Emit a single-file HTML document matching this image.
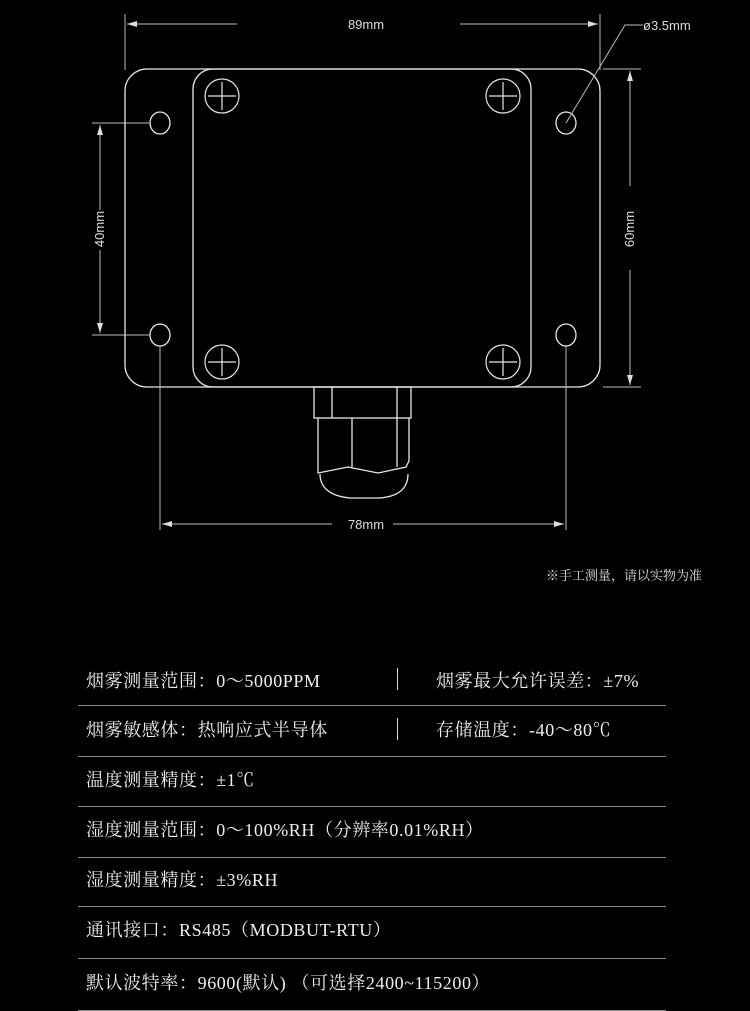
<!DOCTYPE html>
<html><head><meta charset="utf-8"><style>
html,body{margin:0;padding:0;background:#000;}
body{width:750px;height:1011px;position:relative;overflow:hidden;color:#fff;}
.t{position:absolute;font-family:"Liberation Serif","Noto Serif CJK SC",serif;font-size:18px;letter-spacing:0.6px;color:#eee;white-space:nowrap;line-height:20px;}
.hr{position:absolute;left:78px;width:588px;height:1px;background:#888;}
.vr{position:absolute;left:397px;width:1px;height:22px;background:#ddd;}
</style></head><body>
<svg width="750" height="620" style="position:absolute;left:0;top:0" xmlns="http://www.w3.org/2000/svg">
<defs><marker id="a" markerWidth="10" markerHeight="6" refX="10" refY="3" orient="auto-start-reverse" markerUnits="userSpaceOnUse"><path d="M0,0 L10,3 L0,6z" fill="#ddd"/></marker></defs>
<g stroke="#e8e8e8" fill="none" stroke-width="1.3">
<rect x="125" y="69" width="475" height="318" rx="22"/>
<rect x="193" y="69" width="338" height="318" rx="20"/>
<g stroke-width="1.2">
<circle cx="222" cy="96" r="17"/><path d="M208 96h28M222 82v28"/>
<circle cx="503" cy="96" r="17"/><path d="M489 96h28M503 82v28"/>
<circle cx="222" cy="362" r="17"/><path d="M208 362h28M222 348v28"/>
<circle cx="503" cy="362" r="17"/><path d="M489 362h28M503 348v28"/>
</g>
<ellipse cx="160" cy="123" rx="10" ry="11"/><ellipse cx="566" cy="123" rx="10" ry="11"/>
<ellipse cx="160" cy="335" rx="10" ry="11"/><ellipse cx="566" cy="335" rx="10" ry="11"/>
<rect x="314" y="387" width="97" height="31"/><path d="M332 387v31M397 387v31"/>
<path d="M318 418v55l30-6 30 6 28 -6 3-6v-43M352 418v49M397 418v49"/>
<path d="M320 474c0 12 8 22 30 24h30c22-2 28-12 28-24"/>
</g>
<g stroke="#bbb" stroke-width="1" fill="none">
<path d="M125 14v56M600 14v56"/>
<path d="M127 24h110" marker-start="url(#a)"/><path d="M460 24h138" marker-end="url(#a)"/>
<path d="M566 123L625 25h18"/>
<path d="M92 123h58M92 335h58"/>
<path d="M100 125v85" marker-start="url(#a)"/><path d="M100 250v83" marker-end="url(#a)"/>
<path d="M603 69h38M603 387h38"/>
<path d="M630 71v115" marker-start="url(#a)"/><path d="M630 270v115" marker-end="url(#a)"/>
<path d="M160 345v185M566 345v185"/>
<path d="M162 524h170" marker-start="url(#a)"/><path d="M393 524h171" marker-end="url(#a)"/>
</g>
<g fill="#ddd" font-family="Liberation Sans,sans-serif" font-size="13">
<text x="366" y="29" text-anchor="middle">89mm</text>
<text x="643" y="30">ø3.5mm</text>
<text x="366" y="529" text-anchor="middle">78mm</text>
<text transform="translate(104,229) rotate(-90)" text-anchor="middle">40mm</text>
<text transform="translate(634,229) rotate(-90)" text-anchor="middle">60mm</text>
<text x="702" y="580" text-anchor="end" font-family="Liberation Serif,Noto Serif CJK SC,serif">※手工测量，请以实物为准</text>
</g>
</svg>
<div class="t" style="left:86px;top:671px">烟雾测量范围：0～5000PPM</div>
<div class="vr" style="top:668px"></div>
<div class="t" style="left:436px;top:671px">烟雾最大允许误差：±7%</div>
<div class="hr" style="top:705px"></div>
<div class="t" style="left:86px;top:720px">烟雾敏感体：热响应式半导体</div>
<div class="vr" style="top:718px"></div>
<div class="t" style="left:436px;top:720px">存储温度：-40～80℃</div>
<div class="hr" style="top:756px"></div>
<div class="t" style="left:86px;top:770px">温度测量精度：±1℃</div>
<div class="hr" style="top:806px"></div>
<div class="t" style="left:86px;top:820px">湿度测量范围：0～100%RH（分辨率0.01%RH）</div>
<div class="hr" style="top:857px"></div>
<div class="t" style="left:86px;top:870px">湿度测量精度：±3%RH</div>
<div class="hr" style="top:906px"></div>
<div class="t" style="left:86px;top:920px">通讯接口：RS485（MODBUT-RTU）</div>
<div class="hr" style="top:958px"></div>
<div class="t" style="left:86px;top:973px">默认波特率：9600(默认) （可选择2400~115200）</div>
<div class="hr" style="top:1010px"></div>
</body></html>
